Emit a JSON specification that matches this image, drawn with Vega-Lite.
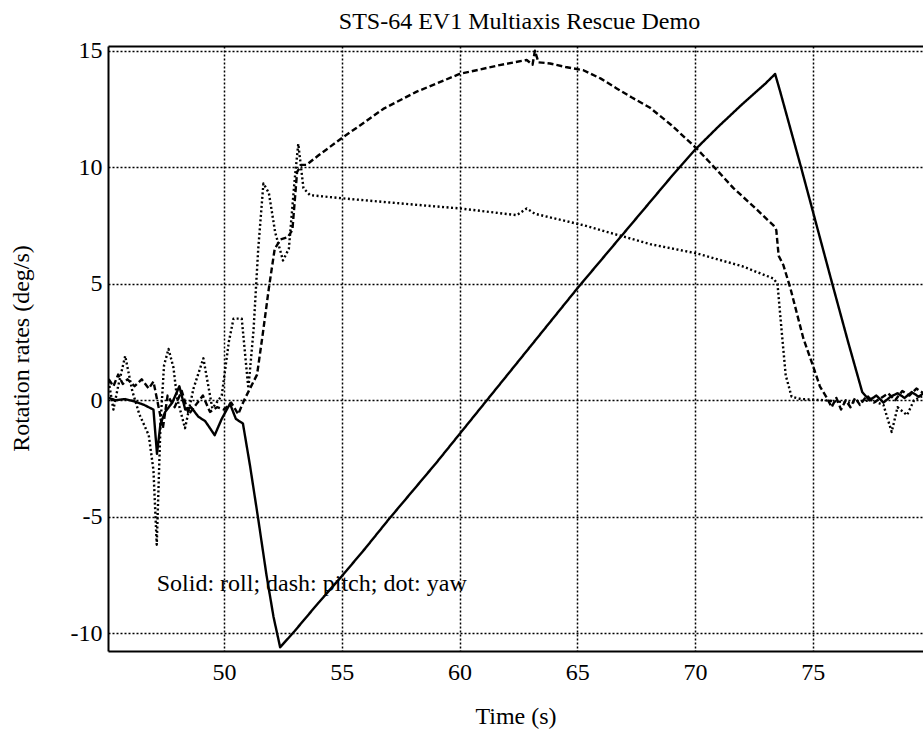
{
  "$schema": "https://vega.github.io/schema/vega-lite/v6.json",
  "width": 815,
  "height": 605,
  "autosize": "none",
  "padding": {"left": 108, "top": 46, "right": 0, "bottom": 86},
  "background": "white",
  "config": {"view": {"stroke": null}, "font": "Liberation Serif"},
  "resolve": {"axis": {"x": "independent"}},
  "datasets": {
    "rates": [
      {"t": 45.1, "v": 0.1, "axis": "roll"}, {"t": 45.4, "v": 0.0, "axis": "roll"}, {"t": 45.8, "v": 0.05, "axis": "roll"}, {"t": 46.2, "v": -0.05, "axis": "roll"}, {"t": 46.6, "v": -0.2, "axis": "roll"}, {"t": 47.0, "v": -0.4, "axis": "roll"}, {"t": 47.15, "v": -2.3, "axis": "roll"}, {"t": 47.3, "v": -1.0, "axis": "roll"}, {"t": 47.5, "v": -0.5, "axis": "roll"}, {"t": 47.8, "v": -0.1, "axis": "roll"}, {"t": 48.1, "v": 0.6, "axis": "roll"}, {"t": 48.35, "v": -0.4, "axis": "roll"}, {"t": 48.6, "v": -0.3, "axis": "roll"}, {"t": 48.9, "v": -0.7, "axis": "roll"}, {"t": 49.2, "v": -0.9, "axis": "roll"}, {"t": 49.6, "v": -1.5, "axis": "roll"}, {"t": 49.9, "v": -0.8, "axis": "roll"}, {"t": 50.25, "v": -0.15, "axis": "roll"}, {"t": 50.5, "v": -0.8, "axis": "roll"}, {"t": 50.8, "v": -1.0, "axis": "roll"}, {"t": 51.1, "v": -2.8, "axis": "roll"}, {"t": 51.45, "v": -5.1, "axis": "roll"}, {"t": 51.8, "v": -7.5, "axis": "roll"}, {"t": 52.1, "v": -9.3, "axis": "roll"}, {"t": 52.38, "v": -10.6, "axis": "roll"}, {"t": 53.0, "v": -9.9, "axis": "roll"}, {"t": 54.0, "v": -8.7, "axis": "roll"}, {"t": 55.0, "v": -7.55, "axis": "roll"}, {"t": 56.0, "v": -6.35, "axis": "roll"}, {"t": 57.0, "v": -5.1, "axis": "roll"}, {"t": 58.0, "v": -3.9, "axis": "roll"}, {"t": 59.0, "v": -2.7, "axis": "roll"}, {"t": 60.0, "v": -1.45, "axis": "roll"}, {"t": 61.0, "v": -0.2, "axis": "roll"}, {"t": 62.0, "v": 1.05, "axis": "roll"}, {"t": 63.0, "v": 2.3, "axis": "roll"}, {"t": 64.0, "v": 3.55, "axis": "roll"}, {"t": 65.0, "v": 4.8, "axis": "roll"}, {"t": 66.0, "v": 6.0, "axis": "roll"}, {"t": 67.0, "v": 7.2, "axis": "roll"}, {"t": 68.0, "v": 8.4, "axis": "roll"}, {"t": 69.0, "v": 9.6, "axis": "roll"}, {"t": 70.0, "v": 10.75, "axis": "roll"}, {"t": 71.0, "v": 11.75, "axis": "roll"}, {"t": 72.0, "v": 12.7, "axis": "roll"}, {"t": 73.0, "v": 13.6, "axis": "roll"}, {"t": 73.4, "v": 14.0, "axis": "roll"}, {"t": 73.6, "v": 13.3, "axis": "roll"}, {"t": 74.5, "v": 10.0, "axis": "roll"}, {"t": 75.8, "v": 5.1, "axis": "roll"}, {"t": 76.5, "v": 2.5, "axis": "roll"}, {"t": 77.1, "v": 0.35, "axis": "roll"}, {"t": 77.4, "v": 0.0, "axis": "roll"}, {"t": 77.7, "v": 0.2, "axis": "roll"}, {"t": 78.0, "v": -0.1, "axis": "roll"}, {"t": 78.3, "v": 0.15, "axis": "roll"}, {"t": 78.6, "v": 0.3, "axis": "roll"}, {"t": 78.9, "v": 0.1, "axis": "roll"}, {"t": 79.2, "v": 0.35, "axis": "roll"}, {"t": 79.5, "v": 0.15, "axis": "roll"}, {"t": 79.7, "v": 0.3, "axis": "roll"},

      {"t": 45.1, "v": 0.9, "axis": "pitch"}, {"t": 45.3, "v": 0.6, "axis": "pitch"}, {"t": 45.5, "v": 1.1, "axis": "pitch"}, {"t": 45.7, "v": 0.7, "axis": "pitch"}, {"t": 45.9, "v": 0.9, "axis": "pitch"}, {"t": 46.2, "v": 0.6, "axis": "pitch"}, {"t": 46.5, "v": 0.9, "axis": "pitch"}, {"t": 46.8, "v": 0.5, "axis": "pitch"}, {"t": 47.0, "v": 0.8, "axis": "pitch"}, {"t": 47.2, "v": -0.2, "axis": "pitch"}, {"t": 47.4, "v": -1.2, "axis": "pitch"}, {"t": 47.6, "v": 0.2, "axis": "pitch"}, {"t": 47.9, "v": -0.3, "axis": "pitch"}, {"t": 48.2, "v": 0.4, "axis": "pitch"}, {"t": 48.5, "v": -0.6, "axis": "pitch"}, {"t": 48.8, "v": -0.2, "axis": "pitch"}, {"t": 49.1, "v": 0.2, "axis": "pitch"}, {"t": 49.4, "v": -0.5, "axis": "pitch"}, {"t": 49.7, "v": -0.3, "axis": "pitch"}, {"t": 50.0, "v": -0.4, "axis": "pitch"}, {"t": 50.3, "v": -0.1, "axis": "pitch"}, {"t": 50.6, "v": -0.6, "axis": "pitch"}, {"t": 50.85, "v": 0.0, "axis": "pitch"}, {"t": 51.05, "v": 0.4, "axis": "pitch"}, {"t": 51.4, "v": 1.1, "axis": "pitch"}, {"t": 51.65, "v": 2.9, "axis": "pitch"}, {"t": 51.9, "v": 4.8, "axis": "pitch"}, {"t": 52.15, "v": 6.5, "axis": "pitch"}, {"t": 52.4, "v": 6.9, "axis": "pitch"}, {"t": 52.7, "v": 7.0, "axis": "pitch"}, {"t": 52.9, "v": 7.3, "axis": "pitch"}, {"t": 53.1, "v": 9.8, "axis": "pitch"}, {"t": 53.3, "v": 10.1, "axis": "pitch"}, {"t": 53.5, "v": 10.1, "axis": "pitch"}, {"t": 54.0, "v": 10.5, "axis": "pitch"}, {"t": 55.07, "v": 11.3, "axis": "pitch"}, {"t": 56.0, "v": 11.95, "axis": "pitch"}, {"t": 56.76, "v": 12.5, "axis": "pitch"}, {"t": 58.18, "v": 13.24, "axis": "pitch"}, {"t": 60.0, "v": 14.0, "axis": "pitch"}, {"t": 61.7, "v": 14.38, "axis": "pitch"}, {"t": 62.85, "v": 14.6, "axis": "pitch"}, {"t": 63.1, "v": 14.4, "axis": "pitch"}, {"t": 63.2, "v": 15.0, "axis": "pitch"}, {"t": 63.35, "v": 14.5, "axis": "pitch"}, {"t": 63.84, "v": 14.45, "axis": "pitch"}, {"t": 64.5, "v": 14.3, "axis": "pitch"}, {"t": 65.26, "v": 14.16, "axis": "pitch"}, {"t": 66.0, "v": 13.8, "axis": "pitch"}, {"t": 66.67, "v": 13.38, "axis": "pitch"}, {"t": 67.3, "v": 13.0, "axis": "pitch"}, {"t": 68.09, "v": 12.55, "axis": "pitch"}, {"t": 69.0, "v": 11.8, "axis": "pitch"}, {"t": 70.07, "v": 10.8, "axis": "pitch"}, {"t": 71.0, "v": 9.8, "axis": "pitch"}, {"t": 71.63, "v": 9.1, "axis": "pitch"}, {"t": 72.5, "v": 8.3, "axis": "pitch"}, {"t": 73.33, "v": 7.5, "axis": "pitch"}, {"t": 73.45, "v": 7.3, "axis": "pitch"}, {"t": 73.55, "v": 6.2, "axis": "pitch"}, {"t": 73.75, "v": 5.8, "axis": "pitch"}, {"t": 74.05, "v": 4.8, "axis": "pitch"}, {"t": 74.6, "v": 2.65, "axis": "pitch"}, {"t": 75.0, "v": 1.5, "axis": "pitch"}, {"t": 75.3, "v": 0.6, "axis": "pitch"}, {"t": 75.6, "v": 0.1, "axis": "pitch"}, {"t": 75.8, "v": -0.3, "axis": "pitch"}, {"t": 76.0, "v": 0.1, "axis": "pitch"}, {"t": 76.2, "v": -0.4, "axis": "pitch"}, {"t": 76.4, "v": 0.0, "axis": "pitch"}, {"t": 76.6, "v": -0.3, "axis": "pitch"}, {"t": 76.8, "v": 0.1, "axis": "pitch"}, {"t": 77.0, "v": -0.2, "axis": "pitch"}, {"t": 77.3, "v": 0.2, "axis": "pitch"}, {"t": 77.6, "v": -0.1, "axis": "pitch"}, {"t": 77.9, "v": 0.1, "axis": "pitch"}, {"t": 78.2, "v": 0.3, "axis": "pitch"}, {"t": 78.5, "v": 0.0, "axis": "pitch"}, {"t": 78.8, "v": 0.4, "axis": "pitch"}, {"t": 79.1, "v": 0.2, "axis": "pitch"}, {"t": 79.4, "v": 0.5, "axis": "pitch"}, {"t": 79.7, "v": 0.3, "axis": "pitch"},

      {"t": 45.1, "v": 0.8, "axis": "yaw"}, {"t": 45.3, "v": -0.4, "axis": "yaw"}, {"t": 45.5, "v": 0.6, "axis": "yaw"}, {"t": 45.8, "v": 1.9, "axis": "yaw"}, {"t": 46.1, "v": 0.4, "axis": "yaw"}, {"t": 46.4, "v": -0.6, "axis": "yaw"}, {"t": 46.8, "v": -1.5, "axis": "yaw"}, {"t": 47.0, "v": -3.0, "axis": "yaw"}, {"t": 47.14, "v": -6.2, "axis": "yaw"}, {"t": 47.3, "v": -1.0, "axis": "yaw"}, {"t": 47.45, "v": 1.5, "axis": "yaw"}, {"t": 47.64, "v": 2.2, "axis": "yaw"}, {"t": 47.85, "v": 1.4, "axis": "yaw"}, {"t": 48.0, "v": 0.1, "axis": "yaw"}, {"t": 48.34, "v": -1.2, "axis": "yaw"}, {"t": 48.7, "v": 0.5, "axis": "yaw"}, {"t": 49.12, "v": 1.8, "axis": "yaw"}, {"t": 49.5, "v": -0.35, "axis": "yaw"}, {"t": 49.9, "v": 0.2, "axis": "yaw"}, {"t": 50.2, "v": 2.5, "axis": "yaw"}, {"t": 50.4, "v": 3.5, "axis": "yaw"}, {"t": 50.75, "v": 3.5, "axis": "yaw"}, {"t": 51.03, "v": 0.5, "axis": "yaw"}, {"t": 51.25, "v": 3.0, "axis": "yaw"}, {"t": 51.45, "v": 6.5, "axis": "yaw"}, {"t": 51.67, "v": 9.3, "axis": "yaw"}, {"t": 51.9, "v": 8.9, "axis": "yaw"}, {"t": 52.17, "v": 7.2, "axis": "yaw"}, {"t": 52.5, "v": 6.0, "axis": "yaw"}, {"t": 52.75, "v": 6.5, "axis": "yaw"}, {"t": 53.0, "v": 9.5, "axis": "yaw"}, {"t": 53.15, "v": 11.0, "axis": "yaw"}, {"t": 53.37, "v": 9.1, "axis": "yaw"}, {"t": 53.65, "v": 8.8, "axis": "yaw"}, {"t": 55.07, "v": 8.66, "axis": "yaw"}, {"t": 58.0, "v": 8.4, "axis": "yaw"}, {"t": 60.02, "v": 8.23, "axis": "yaw"}, {"t": 62.43, "v": 7.94, "axis": "yaw"}, {"t": 62.85, "v": 8.23, "axis": "yaw"}, {"t": 63.2, "v": 8.0, "axis": "yaw"}, {"t": 65.26, "v": 7.51, "axis": "yaw"}, {"t": 68.09, "v": 6.7, "axis": "yaw"}, {"t": 70.07, "v": 6.3, "axis": "yaw"}, {"t": 72.0, "v": 5.75, "axis": "yaw"}, {"t": 73.33, "v": 5.22, "axis": "yaw"}, {"t": 73.5, "v": 5.0, "axis": "yaw"}, {"t": 73.68, "v": 2.94, "axis": "yaw"}, {"t": 73.85, "v": 1.07, "axis": "yaw"}, {"t": 74.1, "v": 0.15, "axis": "yaw"}, {"t": 74.5, "v": 0.05, "axis": "yaw"}, {"t": 75.5, "v": 0.0, "axis": "yaw"}, {"t": 76.5, "v": -0.1, "axis": "yaw"}, {"t": 77.5, "v": 0.0, "axis": "yaw"}, {"t": 78.0, "v": -0.2, "axis": "yaw"}, {"t": 78.35, "v": -1.36, "axis": "yaw"}, {"t": 78.6, "v": -0.3, "axis": "yaw"}, {"t": 79.0, "v": -0.64, "axis": "yaw"}, {"t": 79.3, "v": 0.0, "axis": "yaw"}, {"t": 79.7, "v": 0.2, "axis": "yaw"}
    ],
    "note": [{"label": "Solid: roll; dash: pitch; dot: yaw"}]
  },
  "layer": [
    {
      "data": {"name": "rates"},
      "mark": {"type": "line", "color": "black", "strokeWidth": 2.4, "strokeCap": "butt", "strokeJoin": "round", "clip": true},
      "encoding": {
        "x": {"field": "t", "type": "quantitative", "scale": {"domain": [45.07, 79.68], "nice": false, "zero": false},
          "axis": {"values": [50, 55, 60, 65, 70, 75], "grid": true, "gridDash": [2, 2], "gridColor": "black", "gridWidth": 1.5, "gridOpacity": 1, "domainColor": "black", "domainWidth": 2, "ticks": false, "tickSize": 0, "labelFont": "Liberation Serif", "labelFontSize": 24, "labelColor": "black", "labelPadding": 9, "labelExpr": "'' + datum.value", "title": "Time (s)", "titleFont": "Liberation Serif", "titleFontSize": 24, "titleFontWeight": "normal", "titleColor": "black", "titleBaseline": "alphabetic", "titleY": 72}},
        "y": {"field": "v", "type": "quantitative", "scale": {"domain": [-10.76, 15.2], "nice": false, "zero": false},
          "axis": {"values": [-10, -5, 0, 5, 10, 15], "grid": true, "gridDash": [2, 2], "gridColor": "black", "gridWidth": 1.5, "gridOpacity": 1, "domainColor": "black", "domainWidth": 2, "ticks": false, "tickSize": 0, "labelFont": "Liberation Serif", "labelFontSize": 24, "labelColor": "black", "labelPadding": 6, "labelExpr": "'' + datum.value", "title": "Rotation rates (deg/s)", "titleFont": "Liberation Serif", "titleFontSize": 24, "titleFontWeight": "normal", "titleColor": "black", "titleBaseline": "alphabetic", "titleAngle": -90, "titleX": -80, "titleY": 302}},
        "strokeDash": {"field": "axis", "type": "nominal", "scale": {"domain": ["roll", "pitch", "yaw"], "range": [[1, 0], [6, 3], [2, 2.5]]}, "legend": null}
      }
    },
    {
      "data": {"name": "note"},
      "mark": {"type": "text", "font": "Liberation Serif", "fontSize": 24, "align": "left", "baseline": "alphabetic", "color": "black"},
      "encoding": {
        "x": {"datum": 47.14, "type": "quantitative",
          "axis": {"orient": "top", "labels": false, "ticks": false, "grid": false, "domain": true, "domainColor": "black", "domainWidth": 2, "title": "STS-64 EV1 Multiaxis Rescue Demo", "titleFont": "Liberation Serif", "titleFontSize": 24, "titleFontWeight": "normal", "titleColor": "black", "titleBaseline": "alphabetic", "titleAnchor": "middle", "titleX": 411, "titleY": -18}},
        "y": {"datum": -8.17, "type": "quantitative"},
        "text": {"field": "label"}
      }
    }
  ]
}
